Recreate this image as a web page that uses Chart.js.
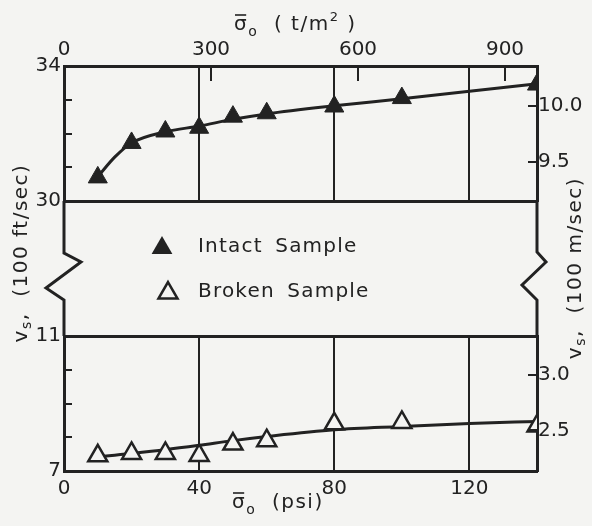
<!DOCTYPE html>
<html>
<head>
<meta charset="utf-8">
<script src="https://cdn.jsdelivr.net/npm/chart.js"></script>
<style>
  body { margin: 0; background: #f4f4f2; }
  #wrap { width: 592px; height: 526px; }
</style>
</head>
<body>
<div id="wrap"><canvas id="chart"></canvas></div>
<script>
// measured points (psi on x, 100 ft/sec on y)
const psi = [10, 20, 30, 40, 50, 60, 80, 100, 140];
const intact = [30.7, 31.72, 32.06, 32.17, 32.5, 32.6, 32.8, 33.05, 33.45];
const broken = [7.45, 7.52, 7.52, 7.46, 7.8, 7.9, 8.4, 8.44, 8.33];

// hand drawn fit curves
const fitPsi = [10, 15, 20, 30, 40, 50, 60, 80, 100, 120, 140];
const intactFit = [30.72, 31.3, 31.72, 32.05, 32.22, 32.42, 32.58, 32.82, 33.03, 33.25, 33.47];
const brokenFit = [7.42, 7.47, 7.52, 7.63, 7.76, 7.9, 8.02, 8.22, 8.32, 8.41, 8.47];

// ticks
const psiTicks = [0, 40, 80, 120];
const tm2Ticks = [0, 300, 600, 900];
const ftTopTicks = [30, 34];
const ftTopMinor = [31, 32, 33];
const ftBotTicks = [7, 11];
const ftBotMinor = [8, 9, 10];
const mTopTicks = [9.5, 10.0];
const mBotTicks = [2.5, 3.0];

const ink = '#222';
const paper = '#f4f4f2';
const FT_TO_M = 0.3048;
const PSI_TO_TOP = 6.895;
const FONT = 'DejaVu Sans';

function xy(xs, ys) { return xs.map((x, i) => ({x: x, y: ys[i]})); }
function fixTicks(list) { return s => { s.ticks = list.map(v => ({value: v})); }; }

Chart.defaults.font.family = FONT;
Chart.defaults.font.size = 20;
Chart.defaults.color = ink;

function tri(ctx, x, y, r, fill, lw) {
  ctx.beginPath();
  ctx.moveTo(x, y - r);
  ctx.lineTo(x + r * 0.866, y + r / 2);
  ctx.lineTo(x - r * 0.866, y + r / 2);
  ctx.closePath();
  if (fill) { ctx.fillStyle = ink; ctx.fill(); }
  else { ctx.fillStyle = paper; ctx.fill(); ctx.lineWidth = lw; ctx.strokeStyle = ink; ctx.stroke(); }
}

// parts: [text, size, dy, bar]
function rich(ctx, parts, x, y, center) {
  let total = 0;
  parts.forEach(p => { ctx.font = p[1] + 'px ' + FONT; p.w = ctx.measureText(p[0]).width; total += p.w; });
  let cx = center ? x - total / 2 : x;
  parts.forEach(p => {
    ctx.font = p[1] + 'px ' + FONT;
    ctx.fillText(p[0], cx, y + (p[2] || 0));
    if (p[3]) {
      ctx.lineWidth = 1.6;
      ctx.beginPath();
      ctx.moveTo(cx + 1, y - 10);
      ctx.lineTo(cx + p.w - 2, y - 10);
      ctx.stroke();
    }
    cx += p.w;
  });
}

const panels = {
  id: 'panels',
  beforeDatasetsDraw(chart) {
    const {ctx, scales: {x, yTop, yBot}} = chart;
    ctx.save();
    ctx.strokeStyle = ink;
    ctx.lineWidth = 2;
    psiTicks.filter(v => v > 0).forEach(v => {
      const px = Math.round(x.getPixelForValue(v));
      [yTop, yBot].forEach(s => {
        ctx.beginPath();
        ctx.moveTo(px, s.top);
        ctx.lineTo(px, s.bottom);
        ctx.stroke();
      });
    });
    ctx.restore();
  },
  afterDraw(chart) {
    const {ctx, chartArea: a, scales: {x2, yTop, yBot, yTopR, yBotR}} = chart;
    const L = a.left, R = a.right, g = yTop.bottom, h = yBot.top;
    ctx.save();
    ctx.strokeStyle = ink;
    ctx.lineJoin = 'miter';
    ctx.lineWidth = 3;
    // frame through the break, with zigzags
    ctx.beginPath();
    ctx.moveTo(L, g); ctx.lineTo(L, g + 52); ctx.lineTo(L + 17, g + 61);
    ctx.lineTo(L - 18, g + 87); ctx.lineTo(L, g + 99); ctx.lineTo(L, h);
    ctx.stroke();
    ctx.beginPath();
    ctx.moveTo(R, g); ctx.lineTo(R, g + 51); ctx.lineTo(R + 9, g + 61);
    ctx.lineTo(R - 15, g + 84); ctx.lineTo(R, g + 99); ctx.lineTo(R, h);
    ctx.stroke();

    // inside ticks
    ctx.lineWidth = 2;
    const hTick = (s, vals, x0, x1) => vals.forEach(v => {
      const py = Math.round(s.getPixelForValue(v));
      ctx.beginPath(); ctx.moveTo(x0, py); ctx.lineTo(x1, py); ctx.stroke();
    });
    hTick(yTop, ftTopMinor, L, L + 8);
    hTick(yBot, ftBotMinor, L, L + 8);
    hTick(yTopR, mTopTicks, R - 9, R);
    hTick(yBotR, mBotTicks, R - 9, R);
    tm2Ticks.filter(v => v > 0).forEach(v => {
      const px = Math.round(x2.getPixelForValue(v));
      ctx.beginPath(); ctx.moveTo(px, a.top + 2); ctx.lineTo(px, a.top + 15); ctx.stroke();
    });

    // axis titles
    ctx.fillStyle = ink;
    ctx.letterSpacing = '1.5px';
    ctx.textBaseline = 'middle';
    ctx.textAlign = 'left';
    rich(ctx, [['σ', 20, 0, true], ['o', 14, 7], ['  ( t/m', 20, 0], ['2', 13, -7], [' )', 20, 0]], 234, 25);
    rich(ctx, [['σ', 20, 0, true], ['o', 14, 7], ['  (psi)', 20, 0]], 232, 503);

    ctx.save();
    ctx.translate(22, 253);
    ctx.rotate(-Math.PI / 2);
    rich(ctx, [['v', 20, 0], ['s', 14, 5], [',', 20, 0], ['  (100 ft/sec)', 20, 0]], 0, 0, true);
    ctx.restore();
    ctx.save();
    ctx.translate(576, 268);
    ctx.rotate(-Math.PI / 2);
    rich(ctx, [['v', 20, 0], ['s', 14, 5], [',', 20, 0], ['  (100 m/sec)', 20, 0]], 0, 0, true);
    ctx.restore();

    // legend
    tri(ctx, L + 98, g + 47, 12, true);
    tri(ctx, L + 104, g + 92, 11, false, 2.5);
    ctx.fillStyle = ink;
    ctx.letterSpacing = '1.2px';
    ctx.wordSpacing = '5px';
    ctx.font = '20px ' + FONT;
    ctx.fillText('Intact Sample', L + 134, g + 46);
    ctx.fillText('Broken Sample', L + 134, g + 91);
    ctx.restore();
  }
};

const axisBase = {
  type: 'linear',
  grid: {display: false, drawTicks: false},
  border: {color: ink, width: 3}
};

new Chart(document.getElementById('chart'), {
  type: 'line',
  data: {
    datasets: [
      {
        label: 'Intact Sample', data: xy(psi, intact), yAxisID: 'yTop', showLine: false,
        pointStyle: 'triangle', pointRadius: 11, pointBackgroundColor: ink, pointBorderColor: ink, pointBorderWidth: 1
      },
      {
        label: 'Broken Sample', data: xy(psi, broken), yAxisID: 'yBot', showLine: false,
        pointStyle: 'triangle', pointRadius: 11, pointBackgroundColor: paper, pointBorderColor: ink, pointBorderWidth: 2.5
      },
      {
        label: 'intact fit', data: xy(fitPsi, intactFit), yAxisID: 'yTop',
        borderColor: ink, borderWidth: 3, pointRadius: 0, cubicInterpolationMode: 'monotone'
      },
      {
        label: 'broken fit', data: xy(fitPsi, brokenFit), yAxisID: 'yBot',
        borderColor: ink, borderWidth: 3, pointRadius: 0, cubicInterpolationMode: 'monotone'
      }
    ]
  },
  options: {
    responsive: true,
    maintainAspectRatio: false,
    animation: false,
    layout: {padding: 0},
    plugins: {legend: {display: false}, tooltip: {enabled: false}},
    scales: {
      x: {
        ...axisBase, position: 'bottom', min: 0, max: 140,
        afterBuildTicks: fixTicks(psiTicks),
        ticks: {padding: 6, maxRotation: 0, autoSkip: false},
        afterFit: s => { s.height = 55; }
      },
      x2: {
        ...axisBase, position: 'top', min: 0, max: 140 * PSI_TO_TOP,
        afterBuildTicks: fixTicks(tm2Ticks),
        ticks: {padding: 4, maxRotation: 0, autoSkip: false},
        afterFit: s => { s.height = 66; }
      },
      yTop: {
        ...axisBase, position: 'left', stack: 'L', stackWeight: 1, weight: 3, min: 30, max: 34,
        afterBuildTicks: fixTicks(ftTopTicks),
        grid: {drawTicks: false, lineWidth: 3, color: c => (c.tick && c.tick.value === 30) ? ink : 'rgba(0,0,0,0)'},
        ticks: {padding: 3},
        afterFit: s => { s.width = 64; }
      },
      yGap: {
        type: 'linear', position: 'left', stack: 'L', stackWeight: 1, weight: 2, min: 0, max: 1,
        ticks: {display: false}, grid: {display: false, drawTicks: false}, border: {display: false},
        afterFit: s => { s.width = 64; }
      },
      yBot: {
        ...axisBase, position: 'left', stack: 'L', stackWeight: 1, weight: 1, min: 7, max: 11,
        afterBuildTicks: fixTicks(ftBotTicks),
        grid: {drawTicks: false, lineWidth: 3, color: c => (c.tick && c.tick.value === 11) ? ink : 'rgba(0,0,0,0)'},
        ticks: {padding: 3},
        afterFit: s => { s.width = 64; }
      },
      yTopR: {
        ...axisBase, position: 'right', stack: 'R', stackWeight: 1, weight: 1,
        min: 30 * FT_TO_M, max: 34 * FT_TO_M,
        afterBuildTicks: fixTicks(mTopTicks),
        ticks: {padding: 1, callback: v => v.toFixed(1)},
        afterFit: s => { s.width = 55; }
      },
      yGapR: {
        type: 'linear', position: 'right', stack: 'R', stackWeight: 1, weight: 2, min: 0, max: 1,
        ticks: {display: false}, grid: {display: false, drawTicks: false}, border: {display: false},
        afterFit: s => { s.width = 55; }
      },
      yBotR: {
        ...axisBase, position: 'right', stack: 'R', stackWeight: 1, weight: 3,
        min: 7 * FT_TO_M, max: 11 * FT_TO_M,
        afterBuildTicks: fixTicks(mBotTicks),
        ticks: {padding: 1, callback: v => v.toFixed(1)},
        afterFit: s => { s.width = 55; }
      }
    }
  },
  plugins: [panels]
});
</script>
</body>
</html>
